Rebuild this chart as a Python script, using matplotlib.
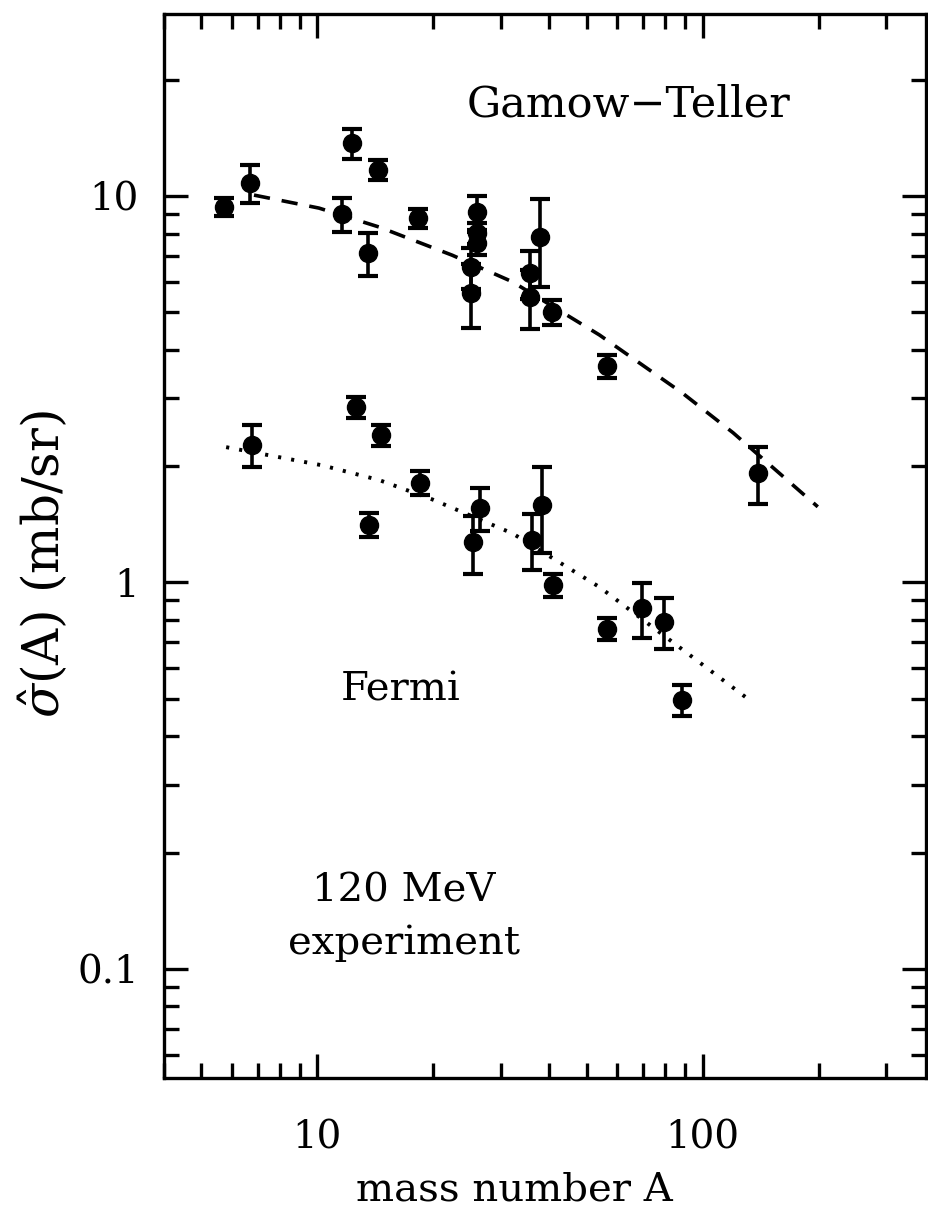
import matplotlib
matplotlib.use('Agg')
import matplotlib.pyplot as plt
from matplotlib.ticker import LogLocator, NullFormatter, FixedLocator, FixedFormatter

plt.rcParams['font.family'] = ['DejaVu Serif']
plt.rcParams['mathtext.fontset'] = 'dejavuserif'

# Gamow-Teller data (mass number, sigma, error)
gt_A = [5.73, 6.7, 12.3, 14.4, 11.6, 13.5, 18.2, 25.9, 25.9, 25.9, 25.1, 25.1,
        37.8, 35.6, 35.6, 40.6, 56.4, 139]
gt_sig = [9.37, 10.8, 13.7, 11.7, 8.98, 7.12, 8.77, 9.09, 8.02, 7.56, 6.55, 5.61,
          7.83, 6.32, 5.48, 5.01, 3.63, 1.92]
gt_err = [0.5, 1.2, 1.2, 0.7, 0.9, 0.9, 0.5, 0.9, 0.5, 0.5, 0.8, 1.05,
          2.0, 0.9, 0.95, 0.37, 0.24, 0.32]

# Fermi data
f_A = [6.78, 12.6, 14.6, 13.6, 18.5, 25.3, 26.4, 36.1, 38.2, 41.0, 56.6, 69.5, 79.3, 88.2]
f_sig = [2.27, 2.84, 2.41, 1.41, 1.81, 1.27, 1.56, 1.29, 1.59, 0.985, 0.758, 0.859, 0.791, 0.497]
f_err = [0.28, 0.18, 0.15, 0.1, 0.13, 0.22, 0.2, 0.21, 0.4, 0.07, 0.05, 0.14, 0.12, 0.045]

# fitted curves
gt_fit_A = [6.85, 10.1, 14.5, 22.4, 32.1, 54.0, 88.7, 120, 199]
gt_fit_sig = [10.06, 9.31, 8.31, 7.03, 6.0, 4.37, 3.09, 2.44, 1.57]
f_fit_A = [5.80, 10.3, 14.5, 19.9, 32.1, 54.0, 130]
f_fit_sig = [2.24, 2.01, 1.84, 1.64, 1.34, 0.973, 0.503]

fig = plt.figure(figsize=(9.29, 12.16), dpi=100)
ax = fig.add_axes([0.1765, 0.1135, 0.8203, 0.875])

ax.set_xscale('log')
ax.set_yscale('log')
ax.set_xlim(4.0, 380)
ax.set_ylim(0.0522, 29.6)

ax.plot(gt_fit_A, gt_fit_sig, color='black', lw=2.6, dashes=(4.5, 3.3))
ax.plot(f_fit_A, f_fit_sig, color='black', lw=2.8, dashes=(0.8, 2.6))

for A, s, e in [(gt_A, gt_sig, gt_err), (f_A, f_sig, f_err)]:
    ax.errorbar(A, s, yerr=e, fmt='o', color='black', ms=13,
                elinewidth=2.6, capsize=7, capthick=3)

for side in ax.spines.values():
    side.set_linewidth(2.4)
    side.set_color('black')

ax.xaxis.set_major_locator(FixedLocator([10, 100]))
ax.xaxis.set_major_formatter(FixedFormatter(['10', '100']))
ax.xaxis.set_minor_locator(LogLocator(base=10, subs=range(2, 10), numticks=20))
ax.xaxis.set_minor_formatter(NullFormatter())
ax.yaxis.set_major_locator(FixedLocator([0.1, 1, 10]))
ax.yaxis.set_major_formatter(FixedFormatter(['0.1', '1', '10']))
ax.yaxis.set_minor_locator(LogLocator(base=10, subs=range(2, 10), numticks=20))
ax.yaxis.set_minor_formatter(NullFormatter())

ax.tick_params(which='both', direction='in', top=True, right=True, width=2.4, color='black')
ax.tick_params(which='major', length=17)
ax.tick_params(which='minor', length=11)
ax.tick_params(axis='x', which='major', labelsize=28, pad=30)
ax.tick_params(axis='y', which='major', labelsize=28, pad=18)

ax.set_xlabel('mass number A', fontsize=29)
ax.xaxis.set_label_coords(0.46, -0.088)
ax.set_ylabel(r'$\hat{\sigma}$(A) (mb/sr)', fontsize=36)
ax.yaxis.set_label_coords(-0.122, 0.483)

ax.text(0.61, 0.915, 'Gamow\u2212Teller', transform=ax.transAxes, fontsize=31,
        ha='center', va='center')
ax.text(0.31, 0.365, 'Fermi', transform=ax.transAxes, fontsize=29,
        ha='center', va='center')
ax.text(0.315, 0.176, '120 MeV', transform=ax.transAxes, fontsize=29,
        ha='center', va='center')
ax.text(0.315, 0.127, 'experiment', transform=ax.transAxes, fontsize=29,
        ha='center', va='center')

fig.savefig('out.png', dpi=100)
